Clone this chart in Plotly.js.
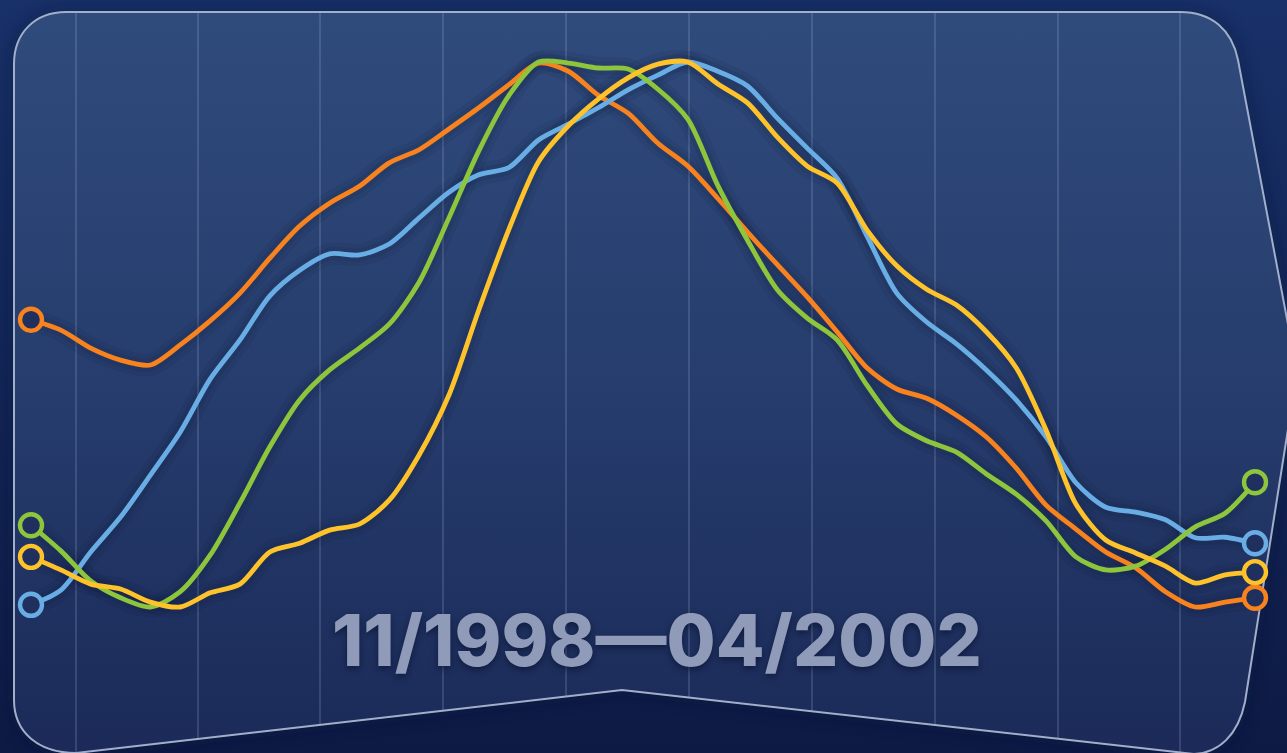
<!DOCTYPE html>
<html>
<head>
<meta charset="utf-8">
<script src="https://cdn.plot.ly/plotly-3.0.1.min.js"></script>
<style>
  html, body { margin: 0; padding: 0; background: #12224f; }
  #chart { width: 1287px; height: 753px; }
</style>
</head>
<body>
<div id="chart"></div>
<script>
// ---- Data (index, each series scaled 0–100 over its own range) ----
const months = [
  "1998-11","1998-12","1999-01","1999-02","1999-03","1999-04","1999-05","1999-06",
  "1999-07","1999-08","1999-09","1999-10","1999-11","1999-12","2000-01","2000-02",
  "2000-03","2000-04","2000-05","2000-06","2000-07","2000-08","2000-09","2000-10",
  "2000-11","2000-12","2001-01","2001-02","2001-03","2001-04","2001-05","2001-06",
  "2001-07","2001-08","2001-09","2001-10","2001-11","2001-12","2002-01","2002-02",
  "2002-03","2002-04"
];
const periodLabel = "11/1998\u201404/2002";

const orangeSeries = [52.7,50.8,47.5,45.3,44.4,48.1,52.5,57.6,64.0,69.9,74.1,77.2,81.5,83.9,87.7,91.6,95.8,99.8,
  98.3,93.9,90.6,85.1,80.9,75.0,68.8,62.8,56.9,50.5,43.9,40.0,38.3,35.2,31.2,25.5,18.7,14.3,10.1,7.2,2.8,0,0.9,1.7];
const blueSeries = [0.4,3.1,10.1,16.5,24.2,32.1,41.8,49.0,57.1,61.8,64.8,64.6,66.6,71.4,76.1,79.3,80.6,85.7,
  88.6,91.6,94.9,97.6,100,98.3,95.6,89.7,84.2,78.7,68.1,57.6,52.3,48.3,43.5,38.0,31.2,22.8,18.3,17.4,16.0,12.7,12.8,11.7];
const greenSeries = [15.0,10.3,4.8,1.7,0,2.8,9.5,19.1,29.4,38.0,43.5,47.5,51.9,59.6,71.4,83.7,93.8,100,
  99.8,98.9,98.7,95.0,89.5,77.4,67.3,58.2,53.0,49.0,40.7,33.6,30.5,28.4,24.4,20.7,15.8,9.2,6.8,7.5,10.6,14.7,17.2,22.9];
const yellowSeries = [9.2,6.8,4.2,3.3,0.9,0,2.6,4.2,10.1,11.7,14.1,15.2,19.6,27.9,38.9,54.5,69.2,81.7,
  88.3,93.2,97.1,99.6,100,96.0,92.5,86.2,80.9,77.8,69.2,62.6,58.3,55.4,50.5,43.9,32.5,18.9,12.3,9.9,7.5,4.4,5.9,6.4];

const seriesList = [
  {name: "Orange", values: orangeSeries, color: "#f7821e"},
  {name: "Blue",   values: blueSeries,   color: "#68aee4"},
  {name: "Green",  values: greenSeries,  color: "#8dc63c"},
  {name: "Yellow", values: yellowSeries, color: "#fec22a"}
];

// ---- Background decoration (pixel geometry, drawn as an SVG image) ----
const W = 1287, H = 753;
const frame = "M14,64 C14,33 35,12 66,12 L1180,12 C1212,12 1232,30 1238,60 L1297,372 L1245,702 C1238,736 1218,753 1194,754 L622,690 L76,753 C38,753 14,732 14,700 Z";
const gridXs = [76,198,320,443,566,689,812,935,1058,1180];
let gridSvg = "";
gridXs.forEach(g => { gridSvg += `<line x1="${g}" y1="10" x2="${g}" y2="760" stroke="rgba(200,215,245,0.16)" stroke-width="2"/>`; });
const bgSvg = `<svg xmlns="http://www.w3.org/2000/svg" width="${W}" height="${H}" viewBox="0 0 ${W} ${H}">
<defs>
<linearGradient id="og" x1="0" y1="0" x2="0" y2="1"><stop offset="0" stop-color="#183168"/><stop offset="1" stop-color="#0d1a44"/></linearGradient>
<linearGradient id="ig" x1="0" y1="0" x2="0" y2="1"><stop offset="0" stop-color="#2f4b7c"/><stop offset="0.5" stop-color="#263d6d"/><stop offset="1" stop-color="#1b2a58"/></linearGradient>
<clipPath id="cp"><path d="${frame}"/></clipPath>
<filter id="bl" x="-10%" y="-10%" width="120%" height="120%"><feGaussianBlur stdDeviation="9"/></filter>
</defs>
<rect width="${W}" height="${H}" fill="url(#og)"/>
<path d="${frame}" fill="#081235" opacity="0.55" filter="url(#bl)"/>
<path d="${frame}" fill="url(#ig)"/>
<g clip-path="url(#cp)">${gridSvg}</g>
<path d="${frame}" fill="none" stroke="#a3aecb" stroke-width="2"/>
</svg>`;
const bgUri = "data:image/svg+xml;charset=utf-8," + encodeURIComponent(bgSvg);

// ---- Traces ----
const traces = [];
// soft dark halo under lines
seriesList.forEach(s => {
  traces.push({x: months, y: s.values, type: "scatter", mode: "lines", hoverinfo: "skip", showlegend: false,
    line: {color: "rgba(8,16,45,0.07)", width: 22, shape: "spline", smoothing: 0.8}});
  traces.push({x: months, y: s.values, type: "scatter", mode: "lines", hoverinfo: "skip", showlegend: false,
    line: {color: "rgba(8,16,45,0.10)", width: 13, shape: "spline", smoothing: 0.8}});
});
seriesList.forEach(s => {
  traces.push({x: months, y: s.values, type: "scatter", mode: "lines", name: s.name, showlegend: false,
    line: {color: s.color, width: 4.8, shape: "spline", smoothing: 0.8}});
});
// open end markers
seriesList.forEach(s => {
  const n = s.values.length;
  traces.push({x: [months[0], months[n-1]], y: [s.values[0], s.values[n-1]], type: "scatter", mode: "markers",
    showlegend: false, hoverinfo: "skip",
    marker: {size: 22, color: "#1f2f5e", line: {color: s.color, width: 4.4}}});
});

// ---- Layout ----
const pxPerCat = 1224 / 41;
const xMin = -31 / pxPerCat;
const xMax = xMin + W / pxPerCat;
const pxPerUnit = 545 / 100;
const yMax = 100 + 62 / pxPerUnit;
const yMin = yMax - H / pxPerUnit;

const layout = {
  width: W, height: H,
  margin: {l: 0, r: 0, t: 0, b: 0, pad: 0},
  paper_bgcolor: "#12224f",
  plot_bgcolor: "rgba(0,0,0,0)",
  showlegend: false,
  xaxis: {type: "category", range: [xMin, xMax], visible: false, showgrid: false, zeroline: false, fixedrange: true},
  yaxis: {range: [yMin, yMax], visible: false, showgrid: false, zeroline: false, fixedrange: true},
  images: [{source: bgUri, xref: "paper", yref: "paper", x: 0, y: 1, sizex: 1, sizey: 1,
    sizing: "stretch", xanchor: "left", yanchor: "top", layer: "below"}],
  annotations: [{
    text: periodLabel, xref: "paper", yref: "paper", x: 657 / W, y: 1 - 640 / H,
    xanchor: "center", yanchor: "middle", showarrow: false,
    font: {family: "Inter, Lato, 'DejaVu Sans', sans-serif", size: 71, weight: 800, color: "#8f9bb8",
      shadow: "0px 3px 6px rgba(5,12,40,0.55)"}
  }]
};

Plotly.newPlot("chart", traces, layout, {displayModeBar: false, staticPlot: true});
</script>
</body>
</html>
